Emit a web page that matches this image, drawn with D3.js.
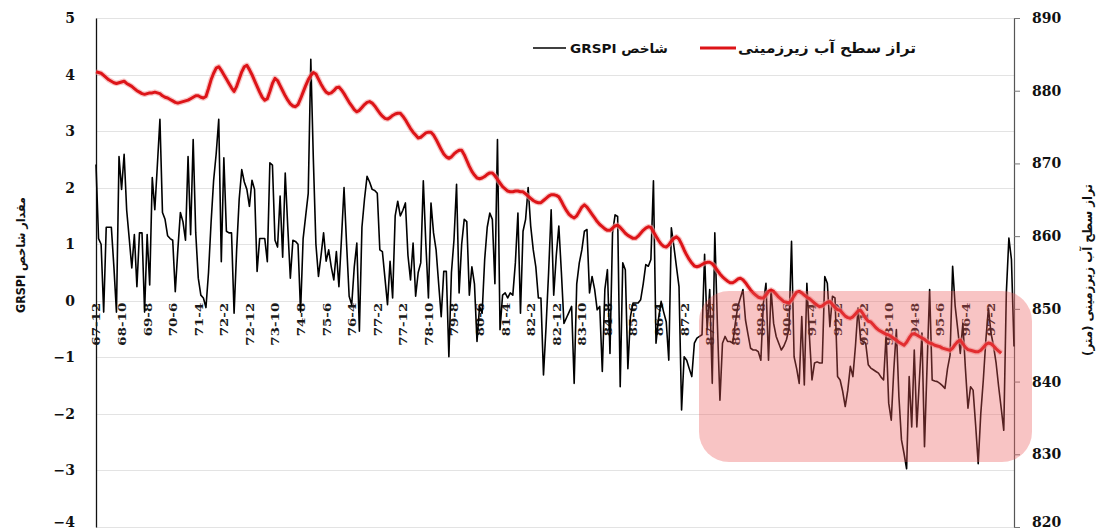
<!DOCTYPE html>
<html><head><meta charset="utf-8">
<script src="https://cdn.jsdelivr.net/npm/d3@7"></script>
<style>body{margin:0;background:#fff}svg{display:block}</style>
</head><body><svg id="c" width="1105" height="532"></svg>
<script>
const tickLabels = ["67-12","68-10","69-8","70-6","71-4","72-2","72-12","73-10","74-8","75-6","76-4","77-2","77-12","78-10","79-8","80-6","81-4","82-2","82-12","83-10","84-8","85-6","86-4","87-2","87-12","88-10","89-8","90-6","91-4","92-2","92-12","93-10","94-8","95-6","96-4","97-2"];

const grspi = [
2.41,1.1,1.0,-0.2,1.3,1.3,1.3,0.6,-0.2,2.55,
1.97,2.59,1.6,1.1,0.58,1.17,0.25,1.2,1.2,-0.2,
1.17,0.28,2.18,1.61,2.4,3.21,1.56,1.44,1.15,1.1,
1.07,0.16,0.9,1.56,1.4,1.07,2.55,1.17,2.85,1.2,
0.4,0.1,0.05,-0.12,0.5,1.38,2.13,2.6,3.21,0.69,
2.53,1.23,1.2,1.2,-0.22,0.9,1.8,2.32,2.1,1.97,
1.67,2.13,1.97,0.52,1.1,1.1,1.1,0.69,2.44,2.4,
1.07,0.95,1.85,0.77,2.26,1.3,0.4,1.07,1.05,1.0,
-0.2,1.1,1.5,1.9,4.27,2.5,1.0,0.43,0.8,1.2,
0.7,0.9,0.6,0.37,0.87,0.25,1.1,2.0,1.0,0.08,
-0.07,0.6,1.02,-0.54,1.3,1.8,2.2,2.1,1.97,1.95,
1.9,0.9,0.87,0.4,-0.07,0.7,0.05,1.5,1.76,1.5,
1.6,1.73,0.8,0.37,1.02,0.08,0.5,0.67,2.12,1.0,
0.05,1.73,1.2,0.9,0.3,-0.28,0.52,0.52,-0.99,0.5,
1.08,2.06,0.14,1.0,1.44,1.4,0.1,0.6,0.3,-0.72,
-0.1,-0.22,0.73,1.3,1.55,1.44,0.3,2.85,-0.51,0.1,
0.14,0.05,0.14,0.1,0.67,1.55,-0.22,1.23,1.44,2.0,
1.32,0.9,0.6,0.05,0.05,-1.31,-0.46,0.5,1.61,0.1,
0.8,1.32,0.5,-0.4,-0.3,-0.2,-0.1,-1.46,0.3,0.67,
0.9,1.23,1.26,0.14,0.43,0.2,-0.16,-0.1,-1.25,0.2,
0.55,-0.93,1.2,1.52,1.49,-1.52,0.67,0.55,-1.2,-0.28,
-0.04,-0.04,-0.04,0.02,0.3,0.64,0.61,0.73,2.12,-0.75,
-0.31,-0.01,-0.2,-0.37,-1.05,1.29,0.96,0.6,0.25,-1.93,
-0.99,-1.05,-1.2,-1.34,-0.75,-0.66,-0.63,-0.6,0.82,-0.51,
0.2,-1.46,1.2,-0.4,-1.76,-0.75,-0.63,-0.72,-0.72,-0.75,
-0.4,-0.1,0.05,0.2,-0.34,-0.6,-0.84,-0.87,-0.87,-0.9,
-1.05,-0.04,0.31,-1.05,0.2,-0.4,-0.63,-0.75,-0.87,-0.8,
-0.69,-0.5,1.05,-0.99,-1.2,-1.46,-0.28,-1.49,0.31,-0.63,
-1.4,-1.1,-1.08,-1.1,-1.1,0.43,0.31,-0.46,0.08,0.05,
-1.34,-1.4,-1.6,-1.87,-1.58,-1.16,-1.34,-0.8,-0.13,-0.69,
-0.72,-0.75,-1.13,-1.19,-1.22,-1.25,-1.28,-1.35,-1.4,-0.6,
-1.81,-2.11,-1.22,-0.51,-1.7,-2.46,-2.7,-2.97,-1.34,-2.23,
-0.87,-2.23,-1.4,-0.57,-2.58,-1.16,0.2,-1.4,-1.42,-1.43,
-1.46,-1.5,-1.55,-1.2,-0.96,0.61,-0.1,-0.5,-0.93,-0.4,
-1.2,-1.9,-1.52,-1.58,-2.2,-2.88,-2.0,-1.4,-0.69,-0.13,
-0.57,-0.8,-1.1,-1.52,-1.9,-2.29,0.14,1.11,0.73,-0.81
];

const level = [
882.6,882.5,882.4,882.1,881.8,881.5,881.3,881.1,881.0,881.1,
881.2,881.3,881.0,880.8,880.6,880.3,880.0,879.8,879.6,879.5,
879.6,879.7,879.7,879.8,879.7,879.6,879.3,879.1,879.0,878.8,
878.6,878.4,878.3,878.4,878.5,878.6,878.7,878.9,879.1,879.3,
879.3,879.1,879.0,879.2,880.3,881.5,882.4,883.1,883.3,882.8,
882.2,881.6,881.0,880.4,879.9,880.6,881.6,882.6,883.3,883.5,
882.9,882.2,881.4,880.6,879.8,879.1,878.7,878.9,879.9,881.0,
881.7,881.4,880.7,880.0,879.3,878.7,878.2,877.9,877.8,878.1,
878.9,879.8,880.7,881.5,882.1,882.5,882.3,881.6,880.9,880.3,
879.8,879.6,879.7,880.0,880.4,880.5,880.1,879.6,879.0,878.4,
877.9,877.4,877.1,877.3,877.7,878.1,878.4,878.5,878.3,877.9,
877.4,876.9,876.5,876.2,876.1,876.3,876.6,876.8,876.9,876.9,
876.5,876.0,875.4,874.8,874.3,873.9,873.5,873.6,873.9,874.2,
874.3,874.3,873.9,873.3,872.6,871.9,871.3,870.9,870.7,870.9,
871.3,871.6,871.8,871.8,871.2,870.4,869.6,868.9,868.4,868.0,
867.9,868.0,868.2,868.5,868.7,868.7,868.3,867.8,867.3,866.8,
866.5,866.2,866.1,866.1,866.2,866.2,866.1,866.1,865.8,865.5,
865.2,864.9,864.7,864.6,864.6,864.9,865.2,865.5,865.7,865.7,
865.6,865.4,864.8,864.1,863.5,863.0,862.7,862.5,862.8,863.4,
864.0,864.3,864.0,863.5,863.0,862.5,862.0,861.6,861.3,861.0,
860.8,860.8,861.1,861.4,861.5,861.2,860.8,860.4,860.1,859.9,
859.7,859.7,860.0,860.4,860.8,861.1,861.3,861.2,860.6,860.0,
859.4,858.9,858.6,858.5,858.8,859.3,859.7,859.9,859.6,858.9,
858.1,857.4,856.8,856.3,855.9,855.8,855.9,856.1,856.3,856.4,
856.4,856.2,855.8,855.3,854.8,854.4,854.1,853.8,853.6,853.6,
853.8,854.1,854.2,854.0,853.6,853.1,852.6,852.2,851.9,851.6,
851.5,851.5,851.9,852.4,852.6,852.4,852.0,851.6,851.3,851.0,
850.9,850.8,851.2,851.8,852.3,852.4,852.2,851.9,851.6,851.4,
851.1,850.8,850.5,850.3,850.4,850.7,850.9,851.0,850.6,850.2,
849.9,849.8,849.4,849.0,848.8,848.7,848.9,849.3,849.7,849.8,
849.3,848.7,848.3,848.2,847.8,847.4,847.1,846.9,846.7,846.5,
846.4,846.2,845.9,845.7,845.4,845.2,845.0,845.4,846.0,846.5,
846.6,846.4,846.2,846.0,845.8,845.5,845.3,845.2,845.0,844.9,
844.8,844.6,844.5,844.4,844.3,844.6,845.1,845.5,845.7,845.2,
844.7,844.4,844.3,844.2,844.1,844.1,844.3,844.7,845.1,845.3,
845.2,844.9,844.5,844.2,843.9,null,null,null,null,null
];

const leftTicks = [-4,-3,-2,-1,0,1,2,3,4,5];
const rightTicks = [820,830,840,850,860,870,880,890];
const legendLabels = ["شاخص GRSPI", "تراز سطح آب زیرزمینی"];
const leftTitle = "مقدار شاخص GRSPI";
const rightTitle = "تراز سطح آب زیرزمینی (متر)";

const svg = d3.select("#c");
const X0 = 96, X1 = 1014, Y0 = 18, Y1 = 527;
const x = d3.scaleLinear().domain([0, grspi.length - 1]).range([X0, X1]);
const yL = d3.scaleLinear().domain([-4, 5]).range([Y1, Y0]);
const yR = d3.scaleLinear().domain([820, 890]).range([Y1, Y0]);

// gridlines
svg.append("g").selectAll("line").data(leftTicks).join("line")
  .attr("x1", X0).attr("x2", X1)
  .attr("y1", d => Math.round(yL(d)) + 0.5).attr("y2", d => Math.round(yL(d)) + 0.5)
  .attr("stroke", "#e3e3e3").attr("stroke-width", 1.2);

// left axis
const gl = svg.append("g").attr("transform", `translate(${X0},0)`)
  .call(d3.axisLeft(yL).tickValues(leftTicks).tickSize(0).tickSizeOuter(0).tickPadding(21).tickFormat(d3.format("d")));
gl.select(".domain").attr("stroke", "#111").attr("stroke-width", 1.3);
gl.selectAll("text").attr("font-family", "DejaVu Serif").attr("font-weight", "bold").attr("font-size", 14).attr("fill", "#111")
  .attr("dy", d => d === -4 ? "-0.05em" : "0.32em");

// right axis
const gr = svg.append("g").attr("transform", `translate(${X1},0)`)
  .call(d3.axisRight(yR).tickValues(rightTicks).tickSize(6).tickSizeOuter(0).tickPadding(12));
gr.select(".domain").attr("stroke", "#555").attr("stroke-width", 1.2);
gr.selectAll(".tick line").attr("stroke", "#777");
gr.selectAll("text").attr("font-family", "DejaVu Serif").attr("font-weight", "bold").attr("font-size", 14).attr("fill", "#111")
  .attr("dy", d => d === 820 ? "-0.05em" : "0.32em");

// category axis at zero
const catTicks = tickLabels.map((t, k) => k * 10);
const gc = svg.append("g").attr("transform", `translate(0,${yL(0) + 2})`)
  .call(d3.axisBottom(x).tickValues(catTicks).tickSize(0).tickFormat((d, k) => tickLabels[k]));
gc.select(".domain").remove();
gc.selectAll("text")
  .attr("font-family", "DejaVu Serif").attr("font-weight", "bold").attr("font-size", 12).attr("fill", "#1a1a1a")
  .attr("text-anchor", "end").attr("transform", "rotate(-90) scale(1.12,0.92)")
  .attr("x", 0).attr("y", 0).attr("dy", "0.35em");

// GRSPI line
svg.append("path").datum(grspi)
  .attr("fill", "none").attr("stroke", "#000").attr("stroke-width", 1.6).attr("stroke-linejoin", "round")
  .attr("d", d3.line().x((d, i) => x(i)).y(d => yL(d)));

// groundwater level line
svg.append("path").datum(level)
  .attr("fill", "none").attr("stroke", "#f3a0a0").attr("stroke-width", 5.5).attr("stroke-linejoin", "round").attr("opacity", 0.6)
  .attr("d", d3.line().defined(d => d != null).x((d, i) => x(i)).y(d => yR(d)));
svg.append("path").datum(level)
  .attr("fill", "none").attr("stroke", "#dd1418").attr("stroke-width", 3).attr("stroke-linejoin", "round")
  .attr("d", d3.line().defined(d => d != null).x((d, i) => x(i)).y(d => yR(d)));

// highlight box
svg.append("rect").attr("x", 699).attr("y", 291).attr("width", 333).attr("height", 171)
  .attr("rx", 30).attr("ry", 30).attr("fill", "rgb(236,92,92)").attr("fill-opacity", 0.36);

// legend
svg.append("line").attr("x1", 533).attr("x2", 566).attr("y1", 48).attr("y2", 48).attr("stroke", "#000").attr("stroke-width", 1.3);
svg.append("text").attr("x", 619).attr("y", 53).attr("text-anchor", "middle").attr("direction", "rtl")
  .attr("font-family", "DejaVu Sans").attr("font-weight", "bold").attr("font-size", 13).attr("fill", "#111")
  .attr("textLength", 98).attr("lengthAdjust", "spacingAndGlyphs").text(legendLabels[0]);
svg.append("line").attr("x1", 700).attr("x2", 736).attr("y1", 48).attr("y2", 48).attr("stroke", "#dd1418").attr("stroke-width", 3);
svg.append("text").attr("x", 827).attr("y", 53).attr("text-anchor", "middle").attr("direction", "rtl")
  .attr("font-family", "DejaVu Sans").attr("font-weight", "bold").attr("font-size", 14).attr("fill", "#111")
  .attr("textLength", 178).attr("lengthAdjust", "spacingAndGlyphs").text(legendLabels[1]);

// axis titles
svg.append("text").attr("transform", "translate(25,255) rotate(-90)").attr("text-anchor", "middle").attr("direction", "rtl")
  .attr("font-family", "DejaVu Sans").attr("font-weight", "bold").attr("font-size", 12).attr("fill", "#111")
  .attr("textLength", 116).attr("lengthAdjust", "spacingAndGlyphs").text(leftTitle);
svg.append("text").attr("transform", "translate(1092,270) rotate(-90)").attr("text-anchor", "middle").attr("direction", "rtl")
  .attr("font-family", "DejaVu Sans").attr("font-weight", "bold").attr("font-size", 13).attr("fill", "#111")
  .attr("textLength", 172).attr("lengthAdjust", "spacingAndGlyphs").text(rightTitle);
</script>
</body></html>
